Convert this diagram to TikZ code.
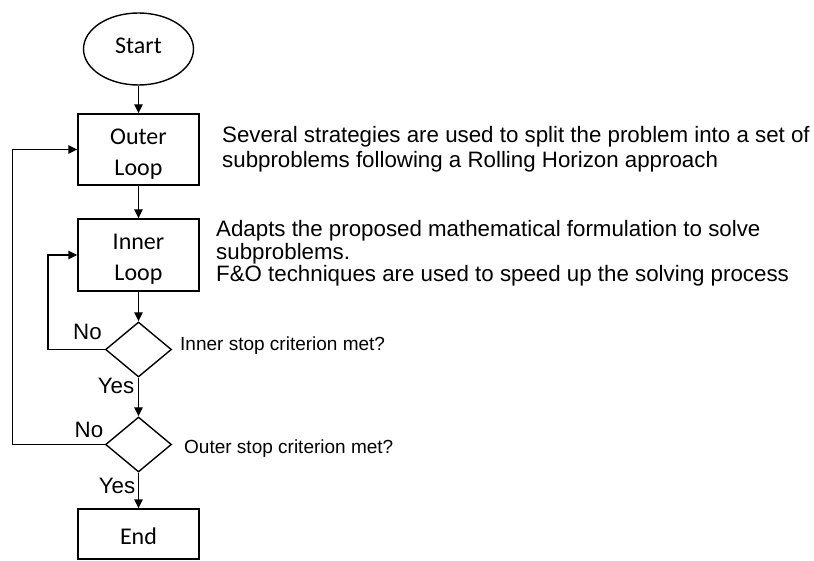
\documentclass[tikz,border=0pt]{standalone}
\usepackage{fontspec}
\setmainfont{Liberation Sans}
\newfontfamily\boxfont{Carlito}
\usetikzlibrary{shapes.geometric,arrows.meta}
\begin{document}
\begin{tikzpicture}[x=1pt,y=-1pt,
  arr/.style={line width=1.4pt,-{Triangle[length=9pt,width=8.5pt]}},
  shapebox/.style={draw,line width=1.4pt,rectangle,minimum width=121pt,inner sep=0pt},
  decision/.style={draw,diamond,line width=1.4pt,minimum width=66pt,minimum height=55pt,inner sep=0pt},
  boxtxt/.style={font=\boxfont\fontsize{24}{29}\selectfont,inner sep=0pt,anchor=base},
  desc/.style={font=\fontsize{22.3}{26}\selectfont,inner sep=0pt,anchor=base west},
  small/.style={font=\fontsize{19}{22}\selectfont,inner sep=0pt,anchor=base west},
  yn/.style={font=\fontsize{22.3}{26}\selectfont,inner sep=0pt,anchor=base}]
\useasboundingbox (0,0) rectangle (814,561);
\fill[white] (0,0) rectangle (814,561);
% shapes
\node[draw,ellipse,line width=1.4pt,minimum width=110pt,minimum height=72pt,inner sep=0pt] (start) at (138.5,49) {};
\node[boxtxt] (startT) at ([yshift=-5pt]start.center) {Start};
\node[shapebox,minimum height=71pt] (outer) at (138.5,149.5) {};
\node[boxtxt] (outerT1) at ([yshift=-31pt]outer.north) {Outer};
\node[boxtxt] (outerT2) at ([yshift=-62pt]outer.north) {Loop};
\node[shapebox,minimum height=72pt] (inner) at (138.5,255) {};
\node[boxtxt] (innerT1) at ([yshift=-31pt]inner.north) {Inner};
\node[boxtxt] (innerT2) at ([yshift=-62pt]inner.north) {Loop};
\node[decision] (d1) at (138.5,349.5) {};
\node[decision] (d2) at (138.5,444.5) {};
\node[shapebox,minimum height=50pt] (endbox) at (138.5,534) {};
\node[boxtxt] (endT) at ([yshift=-10pt]endbox.center) {End};
% connectors
\draw[arr] (start) -- (outer);
\draw[arr] (outer) -- (inner);
\draw[arr] (inner) -- (d1);
\draw[arr] (d1) -- (d2);
\draw[arr] (d2) -- (endbox);
\draw[arr] (d1.west) -- ++(-57,0) |- (inner.west);
\draw[arr] (d2.west) -- ++(-92.5,0) |- (outer.west);
% labels
\node[yn] (no1) at (87.5,340) {No};
\node[yn] (yes1) at (116,393) {Yes};
\node[yn] (no2) at (89,437) {No};
\node[yn] (yes2) at (117,493) {Yes};
\node[small] (q1) at (180,351) {Inner stop criterion met?};
\node[small] (q2) at (184,453) {Outer stop criterion met?};
% descriptions
\node[desc] (s1) at (222,143) {Several strategies are used to split the problem into a set of};
\node[desc] (s2) at (222,168) {subproblems following a Rolling Horizon approach};
\node[desc] (a1) at (216,237) {Adapts the proposed mathematical formulation to solve};
\node[desc] (a2) at (216,260) {subproblems.};
\node[desc] (a3) at (216,282) {F\&O techniques are used to speed up the solving process};
\end{tikzpicture}
\end{document}
